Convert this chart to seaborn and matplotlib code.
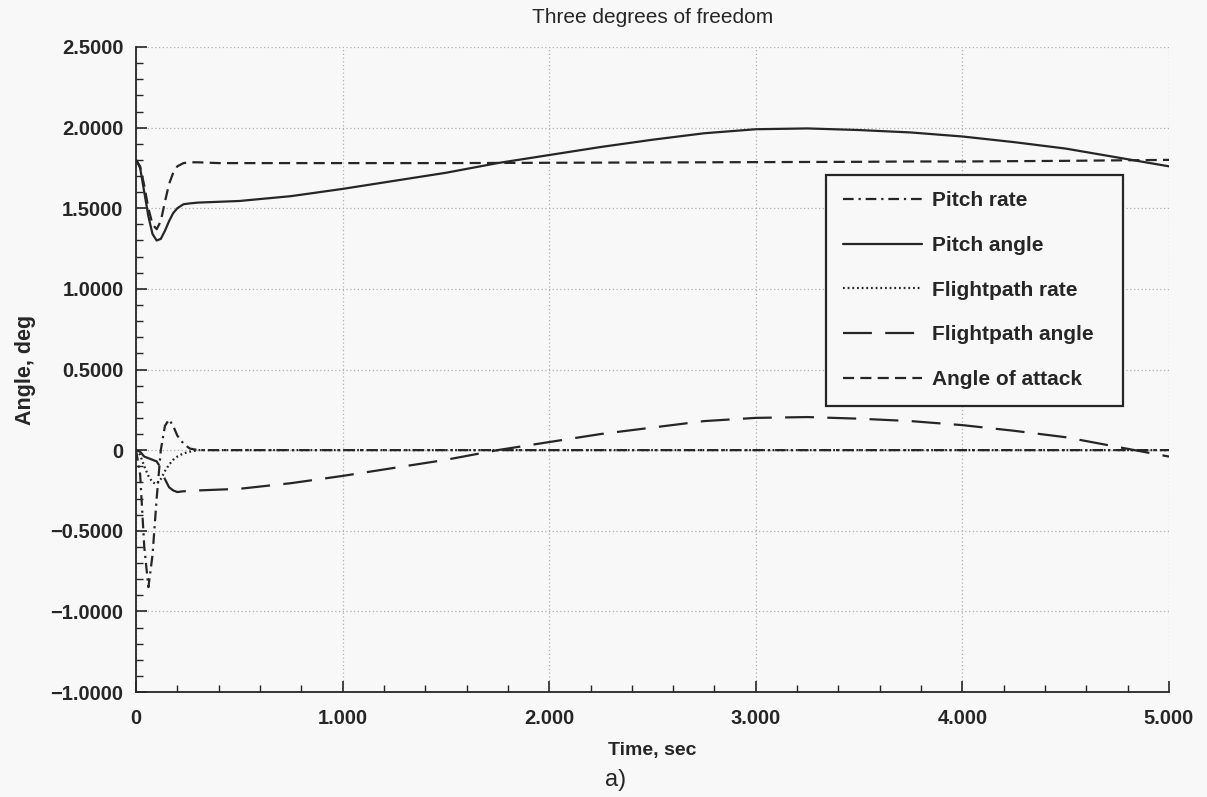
import numpy as np
import pandas as pd
import matplotlib
matplotlib.use("Agg")
import matplotlib.pyplot as plt
from matplotlib.ticker import MultipleLocator
import seaborn as sns

# ---------------- data ----------------
time = [0.00, 0.02, 0.04, 0.06, 0.08, 0.10, 0.12, 0.14, 0.16, 0.18, 0.20, 0.23,
        0.26, 0.30, 0.40, 0.50, 0.75, 1.00, 1.25, 1.50, 1.75, 2.00, 2.25, 2.50,
        2.75, 3.00, 3.25, 3.50, 3.75, 4.00, 4.25, 4.50, 4.75, 5.00]

pitch_rate = [0.00, -0.15, -0.60, -0.85, -0.65, -0.30, 0.00, 0.15, 0.19, 0.15, 0.09, 0.04,
              0.01, 0.00, 0.00, 0.00, 0.00, 0.00, 0.00, 0.00, 0.00, 0.00, 0.00, 0.00,
              0.00, 0.00, 0.00, 0.00, 0.00, 0.00, 0.00, 0.00, 0.00, 0.00]

pitch_angle = [1.80, 1.75, 1.60, 1.45, 1.34, 1.30, 1.31, 1.36, 1.42, 1.47, 1.50, 1.525,
               1.53, 1.535, 1.54, 1.545, 1.575, 1.62, 1.67, 1.72, 1.78, 1.83, 1.88, 1.925,
               1.965, 1.99, 1.995, 1.985, 1.97, 1.945, 1.91, 1.87, 1.815, 1.76]

flightpath_rate = [0.00, -0.03, -0.10, -0.16, -0.20, -0.21, -0.18, -0.13, -0.09, -0.06, -0.04, -0.02,
                   -0.01, 0.00, 0.00, 0.00, 0.00, 0.00, 0.00, 0.00, 0.00, 0.00, 0.00, 0.00,
                   0.00, 0.00, 0.00, 0.00, 0.00, 0.00, 0.00, 0.00, 0.00, 0.00]

flightpath_angle = [0.00, -0.01, -0.04, -0.05, -0.06, -0.07, -0.11, -0.18, -0.23, -0.25, -0.26, -0.255,
                    -0.255, -0.25, -0.245, -0.24, -0.205, -0.16, -0.11, -0.06, 0.00, 0.05, 0.10, 0.14,
                    0.18, 0.20, 0.205, 0.195, 0.18, 0.155, 0.12, 0.08, 0.02, -0.04]

angle_of_attack = [1.80, 1.76, 1.64, 1.50, 1.40, 1.37, 1.42, 1.54, 1.65, 1.72, 1.76, 1.78,
                   1.785, 1.785, 1.78, 1.78, 1.78, 1.78, 1.78, 1.78, 1.781, 1.782, 1.783, 1.784,
                   1.785, 1.786, 1.787, 1.788, 1.79, 1.79, 1.792, 1.794, 1.797, 1.80]

series_names = ["Pitch rate", "Pitch angle", "Flightpath rate",
                "Flightpath angle", "Angle of attack"]
series_values = [pitch_rate, pitch_angle, flightpath_rate,
                 flightpath_angle, angle_of_attack]

x_ticks = [0, 1, 2, 3, 4, 5]
x_tick_labels = ["0", "1.000", "2.000", "3.000", "4.000", "5.000"]
y_ticks = [2.5, 2.0, 1.5, 1.0, 0.5, 0.0, -0.5, -1.0, -1.5]
y_tick_labels = ["2.5000", "2.0000", "1.5000", "1.0000", "0.5000", "0",
                 "\u22120.5000", "\u22121.0000", "\u22121.0000"]

# ---------------- styling ----------------
sns.set_theme(style="white")
plt.rcParams["font.family"] = ["Liberation Sans", "DejaVu Sans"]

bg = "#f8f8f8"
ink = "#262626"
styles = {
    "Pitch rate": (0, (4.8, 2.2, 1.0, 2.2)),
    "Pitch angle": "-",
    "Flightpath rate": (0, (0.8, 1.3)),
    "Flightpath angle": (0, (13, 6)),
    "Angle of attack": (0, (5, 2.8)),
}

fig = plt.figure(figsize=(12.07, 7.97), dpi=100, facecolor=bg)
ax = fig.add_axes([136 / 1207, 1 - 692 / 797, (1169 - 136) / 1207, (692 - 47) / 797])
ax.set_facecolor(bg)

df = pd.DataFrame({"time": time})
for name, vals in zip(series_names, series_values):
    df[name] = vals

for name in series_names:
    sns.lineplot(data=df, x="time", y=name, ax=ax, color=ink, lw=1.6,
                 linestyle=styles[name], label=name, sort=False)

ax.set_xlim(0, 5)
ax.set_ylim(-1.5, 2.5)
ax.set_xticks(x_ticks)
ax.set_xticklabels(x_tick_labels)
ax.set_yticks(y_ticks)
ax.set_yticklabels(y_tick_labels)
ax.xaxis.set_minor_locator(MultipleLocator(0.2))
ax.yaxis.set_minor_locator(MultipleLocator(0.1))

ax.tick_params(axis="both", which="both", bottom=True, left=True, top=False, right=False)
ax.tick_params(axis="both", which="major", direction="in", length=8, width=1.2,
               color=ink, labelsize=14.5)
ax.tick_params(axis="x", which="major", pad=12)
ax.tick_params(axis="y", which="major", pad=9)
ax.tick_params(axis="both", which="minor", direction="in", length=5, width=1.0, color=ink)
for lab in ax.get_xticklabels() + ax.get_yticklabels():
    lab.set_fontweight("bold")
    lab.set_color(ink)

ax.grid(True, which="major", linestyle=(0, (1, 2)), color="#b0b0b0", lw=0.9)
for side in ["top", "right"]:
    ax.spines[side].set_visible(False)
for side in ["left", "bottom"]:
    ax.spines[side].set_color(ink)
    ax.spines[side].set_linewidth(1.3)

ax.set_xlabel("Time, sec", fontsize=14, fontweight="bold", color=ink, labelpad=10)
ax.set_ylabel("Angle, deg", fontsize=15.5, fontweight="bold", color=ink, labelpad=10)
ax.set_title("Three degrees of freedom", fontsize=15, color=ink, pad=17)

leg = ax.legend(loc="upper left", bbox_to_anchor=(0.668, 0.442, 0.287, 0.360),
                mode="expand", borderaxespad=0,
                frameon=True, fancybox=False, edgecolor=ink, facecolor=bg,
                framealpha=1, handlelength=3.8, handletextpad=0.5,
                labelspacing=1.23, borderpad=0.8, prop={"size": 15, "weight": "bold"})
leg.get_frame().set_linewidth(1.6)
for t in leg.get_texts():
    t.set_color(ink)

fig.text(616 / 1207, 1 - 780 / 797, "a)", fontsize=17, color=ink, ha="center", va="center")

fig.savefig("out.png", dpi=100, facecolor=bg)
